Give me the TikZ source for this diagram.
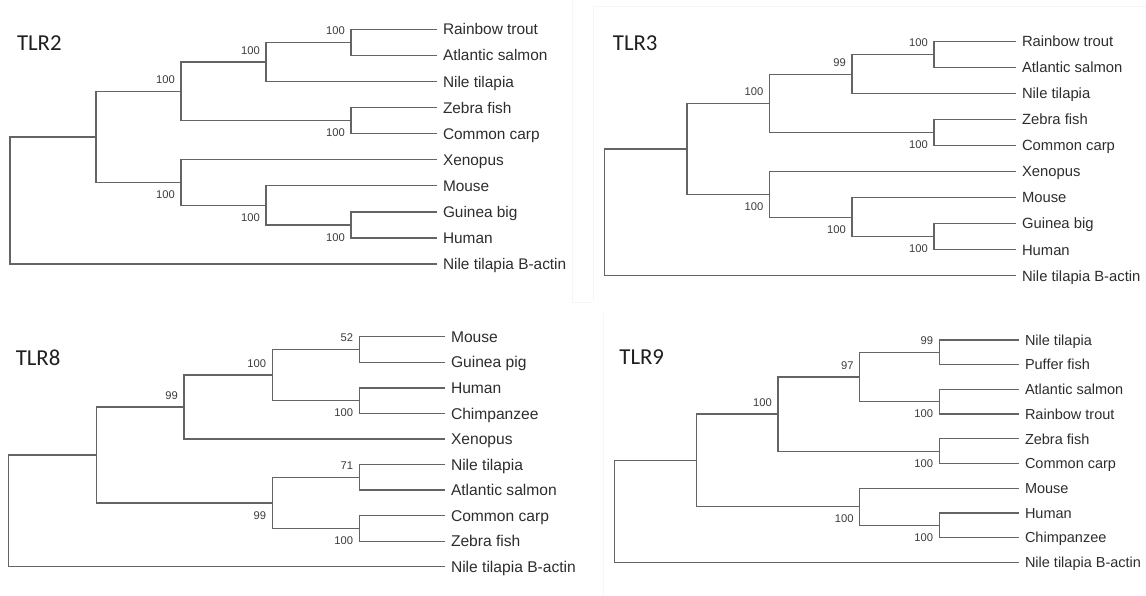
\documentclass[tikz,border=0pt]{standalone}
\usepackage{fontspec}
\setmainfont{Liberation Sans}
\newfontfamily\titlefont{Carlito}
\usetikzlibrary{positioning}
\definecolor{branchgray}{RGB}{100,100,100}
\definecolor{taxongray}{RGB}{45,45,45}
\definecolor{bootgray}{RGB}{60,60,60}
\definecolor{framegray}{RGB}{245,245,245}
\tikzset{
    branch/.style={draw=branchgray,line width=1.3pt},
    taxon/.style={anchor=west,inner sep=0pt,outer xsep=6pt,text=taxongray,
        font=\fontsize{\leafsize}{\leafsize}\selectfont,text height=\leafcap,text depth=0pt},
    boot/.style={inner sep=0pt,text=bootgray,font=\fontsize{11.2}{11.2}\selectfont,
        text height=8pt,text depth=0pt},
    bootup/.style={boot,above left=7.5pt and 6pt of #1},
    bootdown/.style={boot,below left=8pt and 6pt of #1},
    paneltitle/.style={anchor=west,inner sep=0pt,text=black!88,
        font=\titlefont\fontsize{22.8}{22.8}\selectfont,text height=14.4pt,text depth=0pt},
    frame/.style={draw=framegray,line width=0.8pt}
}
\begin{document}
\begin{tikzpicture}[x=1pt,y=-1pt]
\useasboundingbox (0,0) rectangle (1146,596);
% faint screenshot edges
\draw[frame] (593,301) -- (593,6) -- (1146,6);
\draw[frame] (572,0) -- (572,302) -- (592,302);
\draw[frame] (603,313) -- (603,596);

% TLR2
\begin{scope}
\def\leafsize{15.4}\def\leafcap{11pt}\def\yo{29.4}\def\dy{26.07}
\node[paneltitle] (t2title) at (16.8,43.3) {TLR2};
\foreach \taxon [count=\i from 0] in {Rainbow trout,Atlantic salmon,Nile tilapia,Zebra fish,
    Common carp,Xenopus,Mouse,Guinea big,Human,Nile tilapia B-actin}
    \node[taxon] (t2l\i) at (437,\yo+\dy*\i) {\taxon};
\coordinate (t2a) at (351,\yo+\dy*0.5);
\coordinate (t2b) at (266,\yo+\dy*1.25);
\coordinate (t2c) at (351,\yo+\dy*3.5);
\coordinate (t2d) at (181,\yo+\dy*2.375);
\coordinate (t2e) at (351,\yo+\dy*7.5);
\coordinate (t2f) at (266,\yo+\dy*6.75);
\coordinate (t2g) at (181,\yo+\dy*5.875);
\coordinate (t2h) at (96,\yo+\dy*4.125);
\coordinate (t2r) at (10,\yo+\dy*6.5);
\foreach \p/\c in {t2a/t2l0,t2a/t2l1,t2b/t2a,t2b/t2l2,t2c/t2l3,t2c/t2l4,t2d/t2b,t2d/t2c,
    t2e/t2l7,t2e/t2l8,t2f/t2l6,t2f/t2e,t2g/t2l5,t2g/t2f,t2h/t2d,t2h/t2g,t2r/t2h,t2r/t2l9}
    \draw[branch] (\p) |- (\c);
\node[bootup=t2a] (t2ba) {100};
\node[bootup=t2b] (t2bb) {100};
\node[bootdown=t2c] (t2bc) {100};
\node[bootup=t2d] (t2bd) {100};
\node[bootdown=t2e] (t2be) {100};
\node[bootdown=t2f] (t2bf) {100};
\node[bootdown=t2g] (t2bg) {100};
\end{scope}

% TLR3
\begin{scope}
\def\leafsize{14.8}\def\leafcap{10.6pt}\def\yo{41.7}\def\dy{26}
\node[paneltitle] (t3title) at (612.7,43.3) {TLR3};
\foreach \taxon [count=\i from 0] in {Rainbow trout,Atlantic salmon,Nile tilapia,Zebra fish,
    Common carp,Xenopus,Mouse,Guinea big,Human,Nile tilapia B-actin}
    \node[taxon] (t3l\i) at (1016,\yo+\dy*\i) {\taxon};
\coordinate (t3a) at (934,\yo+\dy*0.5);
\coordinate (t3b) at (852,\yo+\dy*1.25);
\coordinate (t3c) at (934,\yo+\dy*3.5);
\coordinate (t3d) at (769.5,\yo+\dy*2.375);
\coordinate (t3e) at (934,\yo+\dy*7.5);
\coordinate (t3f) at (852,\yo+\dy*6.75);
\coordinate (t3g) at (769.5,\yo+\dy*5.875);
\coordinate (t3h) at (687,\yo+\dy*4.125);
\coordinate (t3r) at (604.3,\yo+\dy*6.5);
\foreach \p/\c in {t3a/t3l0,t3a/t3l1,t3b/t3a,t3b/t3l2,t3c/t3l3,t3c/t3l4,t3d/t3b,t3d/t3c,
    t3e/t3l7,t3e/t3l8,t3f/t3l6,t3f/t3e,t3g/t3l5,t3g/t3f,t3h/t3d,t3h/t3g,t3r/t3h,t3r/t3l9}
    \draw[branch] (\p) |- (\c);
\node[bootup=t3a] (t3ba) {100};
\node[bootup=t3b] (t3bb) {99};
\node[bootdown=t3c] (t3bc) {100};
\node[bootup=t3d] (t3bd) {100};
\node[bootdown=t3e] (t3be) {100};
\node[bootdown=t3f] (t3bf) {100};
\node[bootdown=t3g] (t3bg) {100};
\end{scope}

% TLR8
\begin{scope}
\def\leafsize{15.6}\def\leafcap{11.2pt}\def\yo{336.8}\def\dy{25.55}
\node[paneltitle] (t8title) at (15.6,358.3) {TLR8};
\foreach \taxon [count=\i from 0] in {Mouse,Guinea pig,Human,Chimpanzee,Xenopus,Nile tilapia,
    Atlantic salmon,Common carp,Zebra fish,Nile tilapia B-actin}
    \node[taxon] (t8l\i) at (445,\yo+\dy*\i) {\taxon};
\coordinate (t8a) at (359.3,\yo+\dy*0.5);
\coordinate (t8b) at (359.3,\yo+\dy*2.5);
\coordinate (t8c) at (272.3,\yo+\dy*1.5);
\coordinate (t8d) at (184.1,\yo+\dy*2.75);
\coordinate (t8e) at (359.3,\yo+\dy*5.5);
\coordinate (t8f) at (359.3,\yo+\dy*7.5);
\coordinate (t8g) at (272.3,\yo+\dy*6.5);
\coordinate (t8h) at (96.4,\yo+\dy*4.625);
\coordinate (t8r) at (8.2,\yo+\dy*7);
\foreach \p/\c in {t8a/t8l0,t8a/t8l1,t8b/t8l2,t8b/t8l3,t8c/t8a,t8c/t8b,t8d/t8c,t8d/t8l4,
    t8e/t8l5,t8e/t8l6,t8f/t8l7,t8f/t8l8,t8g/t8e,t8g/t8f,t8h/t8d,t8h/t8g,t8r/t8h,t8r/t8l9}
    \draw[branch] (\p) |- (\c);
\node[bootup=t8a] (t8ba) {52};
\node[bootdown=t8b] (t8bb) {100};
\node[bootup=t8c] (t8bc) {100};
\node[bootup=t8d] (t8bd) {99};
\node[bootup=t8e] (t8be) {71};
\node[bootdown=t8f] (t8bf) {100};
\node[bootdown=t8g] (t8bg) {99};
\end{scope}

% TLR9
\begin{scope}
\def\leafsize{14.5}\def\leafcap{10.4pt}\def\yo{340}\def\dy{24.7}
\node[paneltitle] (t9title) at (619.2,357.3) {TLR9};
\foreach \taxon [count=\i from 0] in {Nile tilapia,Puffer fish,Atlantic salmon,Rainbow trout,
    Zebra fish,Common carp,Mouse,Human,Chimpanzee,Nile tilapia B-actin}
    \node[taxon] (t9l\i) at (1019,\yo+\dy*\i) {\taxon};
\coordinate (t9a) at (939.3,\yo+\dy*0.5);
\coordinate (t9b) at (939.3,\yo+\dy*2.5);
\coordinate (t9c) at (859.7,\yo+\dy*1.5);
\coordinate (t9d) at (939.3,\yo+\dy*4.5);
\coordinate (t9e) at (778,\yo+\dy*3);
\coordinate (t9f) at (939.3,\yo+\dy*7.5);
\coordinate (t9g) at (859.7,\yo+\dy*6.75);
\coordinate (t9h) at (696.3,\yo+\dy*4.875);
\coordinate (t9r) at (614.5,\yo+\dy*7);
\foreach \p/\c in {t9a/t9l0,t9a/t9l1,t9b/t9l2,t9b/t9l3,t9c/t9a,t9c/t9b,t9d/t9l4,t9d/t9l5,
    t9e/t9c,t9e/t9d,t9f/t9l7,t9f/t9l8,t9g/t9l6,t9g/t9f,t9h/t9e,t9h/t9g,t9r/t9h,t9r/t9l9}
    \draw[branch] (\p) |- (\c);
\node[bootup=t9a] (t9ba) {99};
\node[bootdown=t9b] (t9bb) {100};
\node[bootup=t9c] (t9bc) {97};
\node[bootdown=t9d] (t9bd) {100};
\node[bootup=t9e] (t9be) {100};
\node[bootdown=t9f] (t9bf) {100};
\node[bootdown=t9g] (t9bg) {100};
\end{scope}
\end{tikzpicture}
\end{document}
